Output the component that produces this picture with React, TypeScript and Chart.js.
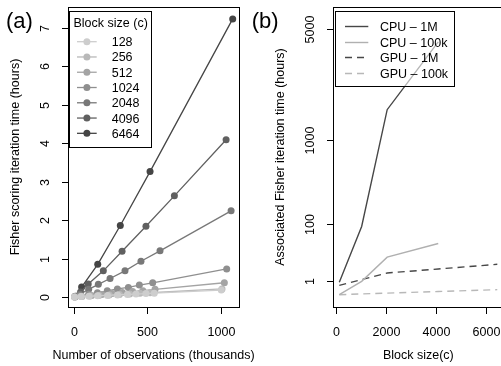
import React, { useEffect, useRef } from "react";
import { Chart, registerables } from "chart.js";
Chart.register(...registerables);

const FONT = '"Liberation Sans", Arial, Helvetica, sans-serif';

// ---------- Panel (a) data ----------
const blockSizes = ["128", "256", "512", "1024", "2048", "4096", "6464"];
const blockColors = ["#cdcdcd", "#b9b9b9", "#a4a4a4", "#8f8f8f", "#787878", "#606060", "#454545"];

const obs128 = [3, 48, 102, 161, 229, 297, 365, 423, 491, 548, 1005];
const hrs128 = [0.0, 0.01, 0.02, 0.03, 0.04, 0.055, 0.065, 0.075, 0.09, 0.1, 0.18];
const obs256 = [5, 55, 110, 170, 240, 310, 380, 450, 520, 1010];
const hrs256 = [0.0, 0.015, 0.025, 0.04, 0.05, 0.065, 0.08, 0.095, 0.11, 0.21];
const obs512 = [5, 50, 120, 190, 260, 330, 400, 470, 553, 1026];
const hrs512 = [0.0, 0.02, 0.04, 0.065, 0.09, 0.115, 0.14, 0.165, 0.2, 0.37];
const obs1024 = [5, 40, 100, 160, 227, 296, 371, 446, 537, 1042];
const hrs1024 = [0.0, 0.03, 0.07, 0.11, 0.16, 0.21, 0.25, 0.31, 0.37, 0.73];
const obs2048 = [5, 40, 100, 166, 246, 348, 457, 587, 1072];
const hrs2048 = [0.01, 0.07, 0.2, 0.33, 0.48, 0.68, 0.93, 1.2, 2.24];
const obs4096 = [8, 45, 97, 200, 328, 491, 685, 1038];
const hrs4096 = [0.01, 0.13, 0.34, 0.68, 1.19, 1.84, 2.63, 4.09];
const obs6464 = [10, 52, 162, 316, 519, 1083];
const hrs6464 = [0.02, 0.26, 0.85, 1.86, 3.26, 7.23];

const obsA = [obs128, obs256, obs512, obs1024, obs2048, obs4096, obs6464];
const hrsA = [hrs128, hrs256, hrs512, hrs1024, hrs2048, hrs4096, hrs6464];

const xTicksA = [0, 500, 1000];
const yTicksA = [0, 1, 2, 3, 4, 5, 6, 7];

// ---------- Panel (b) data ----------
const blockSizeB = [128, 1024, 2048, 4096, 6464];
const cpu1M = [0.77, 90, 1700, 4300, null];
const cpu100k = [0.002, 0.94, 16, 39, null];
const gpu1M = [0.38, 1.3, 3.45, 5.5, 8.8];
const gpu100k = [0.002, 0.0054, 0.0117, 0.036, 0.09];
const seriesNamesB = ["CPU – 1M", "CPU – 100k", "GPU – 1M", "GPU – 100k"];
const seriesValuesB = [cpu1M, cpu100k, gpu1M, gpu100k];
const seriesColorsB = ["#474747", "#b0b0b0", "#474747", "#b8b8b8"];
const seriesDashedB = [false, false, true, true];

const xTicksB = [0, 2000, 4000, 6000];
const yTicksB = [1, 100, 1000, 5000];

type PanelCfg = {
  width: number;
  padding: { left: number; right: number; top: number; bottom: number };
  xRange: [number, number];
  yRange: [number, number];
  xTicks: number[];
  yTicks: number[];
  yTransform: (v: number) => number;
  xTitle: string;
  yTitle: string;
  label: string;
  labelX: number;
  datasets: any[];
  drawLegend: (ctx: CanvasRenderingContext2D, a: any) => void;
};

function rStylePlugin(cfg: PanelCfg) {
  return {
    id: "rStyle",
    afterDatasetsDraw(chart: any) {
      const ctx: CanvasRenderingContext2D = chart.ctx;
      const a = chart.chartArea;
      const xs = chart.scales.x;
      const ys = chart.scales.y;
      ctx.save();
      ctx.strokeStyle = "#000";
      ctx.fillStyle = "#000";
      ctx.lineWidth = 1;
      // box
      ctx.strokeRect(Math.round(a.left) + 0.5, Math.round(a.top) + 0.5, Math.round(a.right - a.left), Math.round(a.bottom - a.top));
      ctx.font = `12.5px ${FONT}`;
      // x ticks
      const bottom = Math.round(a.bottom) + 0.5;
      ctx.textAlign = "center";
      ctx.textBaseline = "alphabetic";
      cfg.xTicks.forEach((v) => {
        const px = Math.round(xs.getPixelForValue(v)) + 0.5;
        ctx.beginPath();
        ctx.moveTo(px, bottom);
        ctx.lineTo(px, bottom + 6.5);
        ctx.stroke();
        ctx.fillText(String(v), px, a.bottom + 29);
      });
      // y ticks
      const left = Math.round(a.left) + 0.5;
      cfg.yTicks.forEach((v) => {
        const py = Math.round(ys.getPixelForValue(cfg.yTransform(v))) + 0.5;
        ctx.beginPath();
        ctx.moveTo(left - 6.5, py);
        ctx.lineTo(left, py);
        ctx.stroke();
        ctx.save();
        ctx.translate(a.left - 19.5, py);
        ctx.rotate(-Math.PI / 2);
        ctx.textAlign = "center";
        ctx.fillText(String(v), 0, 0);
        ctx.restore();
      });
      // titles
      ctx.textAlign = "center";
      ctx.fillText(cfg.xTitle, (a.left + a.right) / 2, a.bottom + 52);
      ctx.save();
      ctx.translate(a.left - 49.5, (a.top + a.bottom) / 2);
      ctx.rotate(-Math.PI / 2);
      ctx.fillText(cfg.yTitle, 0, 0);
      ctx.restore();
      // panel label
      ctx.font = `22px ${FONT}`;
      ctx.textAlign = "left";
      ctx.fillText(cfg.label, cfg.labelX, 28);
      // legend
      cfg.drawLegend(ctx, a);
      ctx.restore();
    },
  };
}

function drawLegendA(ctx: CanvasRenderingContext2D, a: any) {
  const bx = a.left + 1;
  const by = a.top + 4;
  ctx.fillStyle = "#fff";
  ctx.fillRect(bx, by, 82, 136);
  ctx.strokeStyle = "#000";
  ctx.lineWidth = 1;
  ctx.strokeRect(Math.round(bx) + 0.5, Math.round(by) + 0.5, 82, 136);
  ctx.font = `12.5px ${FONT}`;
  ctx.textAlign = "left";
  ctx.fillStyle = "#000";
  ctx.fillText("Block size (c)", bx + 4.5, by + 16.2);
  blockSizes.forEach((name, i) => {
    const cy = by + 30.7 + i * 15.27;
    const col = blockColors[i];
    ctx.strokeStyle = col;
    ctx.lineWidth = 1.3;
    ctx.beginPath();
    ctx.moveTo(bx + 8, cy);
    ctx.lineTo(bx + 27.7, cy);
    ctx.stroke();
    ctx.fillStyle = col;
    ctx.beginPath();
    ctx.arc(bx + 17.9, cy, 3.5, 0, Math.PI * 2);
    ctx.fill();
    ctx.fillStyle = "#000";
    ctx.fillText(name, bx + 42.7, cy + 4.5);
  });
}

function drawLegendB(ctx: CanvasRenderingContext2D, a: any) {
  const bx = a.left + 2;
  const by = a.top + 4.3;
  const w = 119.3;
  const h = 75.4;
  ctx.fillStyle = "rgba(255,255,255,0.6)";
  ctx.fillRect(bx, by, w, h);
  ctx.strokeStyle = "#000";
  ctx.lineWidth = 1;
  ctx.strokeRect(Math.round(bx) + 0.5, Math.round(by) + 0.5, Math.round(w), Math.round(h));
  ctx.font = `12.5px ${FONT}`;
  ctx.textAlign = "left";
  seriesNamesB.forEach((name, i) => {
    const cy = Math.round(by + 14.7 + i * 15.5) + 0.5;
    ctx.strokeStyle = seriesColorsB[i];
    ctx.lineWidth = 1.4;
    ctx.setLineDash(seriesDashedB[i] ? [7, 5] : []);
    ctx.beginPath();
    ctx.moveTo(bx + 10, cy);
    ctx.lineTo(bx + 33.3, cy);
    ctx.stroke();
    ctx.setLineDash([]);
    ctx.fillStyle = "#000";
    ctx.fillText(name, bx + 45, cy + 4.5);
  });
}

const panelA: PanelCfg = {
  width: 270,
  padding: { left: 68, right: 31, top: 7, bottom: 59 },
  xRange: [-41, 1126],
  yRange: [-0.26, 7.54],
  xTicks: xTicksA,
  yTicks: yTicksA,
  yTransform: (v) => v,
  xTitle: "Number of observations (thousands)",
  yTitle: "Fisher scoring iteration time (hours)",
  label: "(a)",
  labelX: 6,
  datasets: blockSizes.map((name, i) => ({
    label: name,
    data: obsA[i].map((x, j) => ({ x, y: hrsA[i][j] })),
    borderColor: blockColors[i],
    backgroundColor: blockColors[i],
    pointBackgroundColor: blockColors[i],
    pointBorderWidth: 0,
    pointRadius: 3.5,
    borderWidth: 1.3,
    tension: 0,
  })),
  drawLegend: drawLegendA,
};

const panelB: PanelCfg = {
  width: 260,
  padding: { left: 83, right: 6.4, top: 7, bottom: 59 },
  xRange: [-125, 6717],
  yRange: [-0.66, 18.49],
  xTicks: xTicksB,
  yTicks: yTicksB,
  yTransform: (v) => Math.cbrt(v),
  xTitle: "Block size(c)",
  yTitle: "Associated Fisher iteration time (hours)",
  label: "(b)",
  labelX: 1.7,
  datasets: seriesNamesB.map((name, i) => ({
    label: name,
    data: blockSizeB
      .map((x, j) => ({ x, v: seriesValuesB[i][j] }))
      .filter((p) => p.v !== null)
      .map((p) => ({ x: p.x, y: Math.cbrt(p.v as number) })),
    borderColor: seriesColorsB[i],
    backgroundColor: seriesColorsB[i],
    borderDash: seriesDashedB[i] ? [7, 5] : [],
    pointRadius: 0,
    borderWidth: 1.4,
    tension: 0,
  })),
  drawLegend: drawLegendB,
};

function Panel({ cfg, left }: { cfg: PanelCfg; left: number }) {
  const ref = useRef<HTMLCanvasElement | null>(null);
  useEffect(() => {
    if (!ref.current) return;
    const chart = new Chart(ref.current, {
      type: "line",
      data: { datasets: cfg.datasets },
      options: {
        animation: false,
        responsive: false,
        maintainAspectRatio: false,
        devicePixelRatio: 1,
        layout: { padding: cfg.padding },
        parsing: false as any,
        scales: {
          x: { type: "linear", display: false, min: cfg.xRange[0], max: cfg.xRange[1] },
          y: { type: "linear", display: false, min: cfg.yRange[0], max: cfg.yRange[1] },
        },
        plugins: { legend: { display: false }, tooltip: { enabled: false } },
        events: [],
      },
      plugins: [rStylePlugin(cfg)],
    });
    return () => chart.destroy();
  }, [cfg]);
  return (
    <canvas
      ref={ref}
      width={cfg.width}
      height={366}
      style={{ position: "absolute", left, top: 0, width: cfg.width, height: 366 }}
    />
  );
}

export default function App() {
  return (
    <div
      style={{
        position: "fixed",
        left: 0,
        top: 0,
        width: 501,
        height: 366,
        overflow: "hidden",
        background: "#fff",
      }}
    >
      <Panel cfg={panelA} left={0} />
      <Panel cfg={panelB} left={250} />
    </div>
  );
}
